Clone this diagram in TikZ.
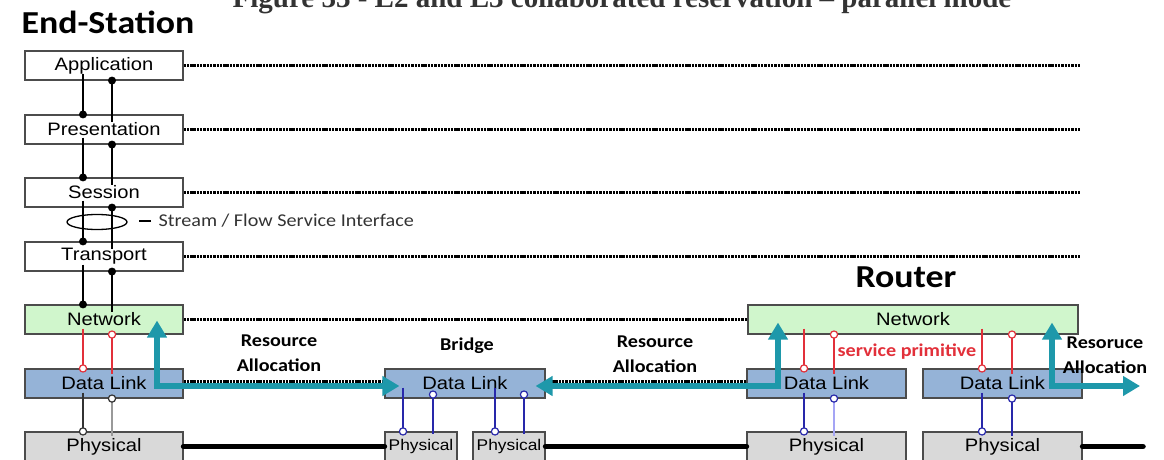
\documentclass[tikz,border=0pt]{standalone}
\usepackage{fontspec}
\setmainfont{Liberation Sans}
\newfontfamily\boxfont{Liberation Sans}[FakeStretch=1.12]
\newfontfamily\labfont{Carlito}[FakeStretch=1.12]
\newfontfamily\capfont{Liberation Serif}
\usetikzlibrary{arrows.meta, calc}
\definecolor{netgreen}{RGB}{208,246,204}
\definecolor{dlblue}{RGB}{149,179,215}
\definecolor{phygray}{RGB}{217,217,217}
\definecolor{allocteal}{RGB}{30,152,170}
\definecolor{primred}{RGB}{226,48,58}
\definecolor{linkblue}{RGB}{40,40,170}
\definecolor{paleblue}{RGB}{165,165,245}

\begin{document}
\begin{tikzpicture}[x=1pt, y=-1pt,
  layer/.style={draw=black!70, line width=1.1pt, minimum width=158pt, minimum height=29pt,
    inner sep=0pt, font=\boxfont\fontsize{18}{18}\selectfont},
  smallphy/.style={layer, fill=phygray, minimum width=72pt, font=\boxfont\fontsize{15.5}{15.5}\selectfont},
  lab/.style={font=\labfont\bfseries\fontsize{18}{25}\selectfont, align=center},
  head/.style={font=\labfont\bfseries\fontsize{32}{32}\selectfont},
  peer/.style={line width=3pt, dash pattern=on 2.4pt off 0.9pt},
  stack/.style={line width=2.2pt},
  wire/.style={line width=1.2pt},
  alloc/.style={allocteal, line width=5.5pt,
    {Triangle[length=17pt,width=19pt]}-{Triangle[length=17pt,width=19pt]}},
  wan/.style={line width=5.5pt, line cap=round}]
  \useasboundingbox (0,0) rectangle (1164,460);

  % caption, cut at the top of the page
  \node[font=\capfont\bfseries\fontsize{29}{29}\selectfont, text=black!80, anchor=base] (figcap)
    at (622,8) {Figure 33 - L2 and L3 collaborated reservation – parallel mode};

  % end-station
  \node[head, anchor=base west] (esname) at (18,34) {End-Station};
  \node[layer] (app)   at (104,65.5)  {Application};
  \node[layer] (pres)  at (104,129.5) {Presentation};
  \node[layer] (sess)  at (104,192.5) {Session};
  \node[layer] (trans) at (104,256.5) {Transport};
  \node[layer, fill=netgreen] (net) at (104,319.5) {Network};
  \node[layer, fill=dlblue]   (dl)  at (104,383.5) {Data Link};
  \node[layer, fill=phygray]  (phy) at (104,446.5) {Physical};

  % bridge
  \node[lab] (brname) at (467,346) {Bridge};
  \node[layer, fill=dlblue, minimum width=160pt] (bdl) at (465,383.5) {Data Link};
  \node[smallphy] (bphyA) at (421,446.5) {Physical};
  \node[smallphy] (bphyB) at (509,446.5) {Physical};

  % router
  \node[head] (rtname) at (906,277) {Router};
  \node[layer, fill=netgreen, minimum width=330pt] (rnet) at (913,319.5) {Network};
  \node[layer, fill=dlblue, minimum width=159pt] (rdlA) at (826.5,383.5) {Data Link};
  \node[layer, fill=dlblue, minimum width=159pt] (rdlB) at (1002.5,383.5) {Data Link};
  \node[layer, fill=phygray, minimum width=159pt] (rphyA) at (826.5,446.5) {Physical};
  \node[layer, fill=phygray, minimum width=159pt] (rphyB) at (1002.5,446.5) {Physical};

  % columns and turning points
  \coordinate (sL) at (83,0);    \coordinate (sR) at (112,0);
  \coordinate (bA1) at (403,0);  \coordinate (bA2) at (433,0);
  \coordinate (bB1) at (495,0);  \coordinate (bB2) at (524,0);
  \coordinate (rA1) at (804,0);  \coordinate (rA2) at (834,0);
  \coordinate (rB1) at (982,0);  \coordinate (rB2) at (1012,0);
  \coordinate (dotEnd) at (1080,0);
  \coordinate (esTurn) at (157,386);
  \coordinate (rTurnA) at (778,386);
  \coordinate (rTurnB) at (1052,386);
  \coordinate (allocEnd) at (1140,386);
  \coordinate (wanEnd) at (1143,446.5);

  % peer to peer lines
  \foreach \n in {app, pres, sess, trans}
    \draw[peer] (\n.east) -- (\n.east -| dotEnd);
  \draw[peer] (net.east) -- (rnet.west);
  \draw[peer] ([yshift=2.5pt]dl.east) -- ([yshift=2.5pt]bdl.west);
  \draw[peer] ([yshift=2.5pt]bdl.east) -- ([yshift=2.5pt]rdlA.west);

  % upper layer interfaces
  \foreach \up/\lo in {app/pres, pres/sess, sess/trans, trans/net} {
    \draw[stack] ([yshift=7pt]\up.south -| sL) -- (\lo.north -| sL);
    \fill (\lo.north -| sL) circle (4pt);
    \draw[stack] (\up.south -| sR) -- ([yshift=-8pt]\lo.north -| sR);
    \fill (\up.south -| sR) circle (4pt);
  }
  \draw[line width=1.3pt] (97,222) ellipse (30pt and 7.5pt);
  \node[font=\labfont\fontsize{18}{18}\selectfont, text=black!80, anchor=west] (sfsi)
    at (155,221) {Stream / Flow Service Interface};
  \draw[line width=1.3pt] ([xshift=-4pt]sfsi.west) -- ++(-12,0);

  % service primitives: network / data link / physical
  \foreach \n/\d/\p/\a/\b/\cl/\cr in {net/dl/phy/sL/sR/black!80/black!40,
      rnet/rdlA/rphyA/rA1/rA2/linkblue/paleblue,
      rnet/rdlB/rphyB/rB1/rB2/linkblue/linkblue} {
    \draw[wire, primred] ([yshift=6pt]\n.south -| \a) -- (\d.north -| \a);
    \draw[wire, primred, fill=white] (\d.north -| \a) circle (3.6pt);
    \draw[wire, primred] (\n.south -| \b) -- ([yshift=-6pt]\d.north -| \b);
    \draw[wire, primred, fill=white] (\n.south -| \b) circle (3.6pt);
    \draw[wire, \cl] ([yshift=6pt]\d.south -| \a) -- (\p.north -| \a);
    \draw[wire, \cl, fill=white] (\p.north -| \a) circle (3.6pt);
    \draw[wire, \cr] (\d.south -| \b) -- ([yshift=-5pt]\p.north -| \b);
    \draw[wire, \cl, fill=white] (\d.south -| \b) circle (3.6pt);
  }
  \foreach \a/\b/\p in {bA1/bA2/bphyA, bB1/bB2/bphyB} {
    \draw[wire, linkblue] ([yshift=-4pt]\a |- bdl.center) -- (\p.north -| \a);
    \draw[wire, linkblue, fill=white] (\p.north -| \a) circle (3.6pt);
    \draw[wire, linkblue] ([yshift=4pt]bdl.south -| \b) -- ([yshift=-3pt]\p.north -| \b);
    \draw[wire, linkblue, fill=white] ([yshift=4pt]bdl.south -| \b) circle (3.6pt);
  }
  \node[lab, text=primred] (prim) at (907,352) {service primitive};

  % physical links
  \draw[wan] (phy.east) -- (bphyA.west);
  \draw[wan] (bphyB.east) -- (rphyA.west);
  \draw[wan] (rphyB.east) -- (wanEnd);

  % resource allocation
  \draw[alloc] ([yshift=14pt]net.south -| esTurn) |- ([xshift=15pt]bdl.west |- esTurn);
  \draw[alloc] ([xshift=-10pt]bdl.east |- rTurnA) -| ([yshift=12pt]rnet.south -| rTurnA);
  \draw[alloc] ([yshift=12pt]rnet.south -| rTurnB) |- (allocEnd);
  \node[lab] (allocA) at (279,353) {Resource\\Allocation};
  \node[lab] (allocB) at (655,354) {Resource\\Allocation};
  \node[lab] (allocC) at (1105,355) {Resoruce\\Allocation};
\end{tikzpicture}
\end{document}
